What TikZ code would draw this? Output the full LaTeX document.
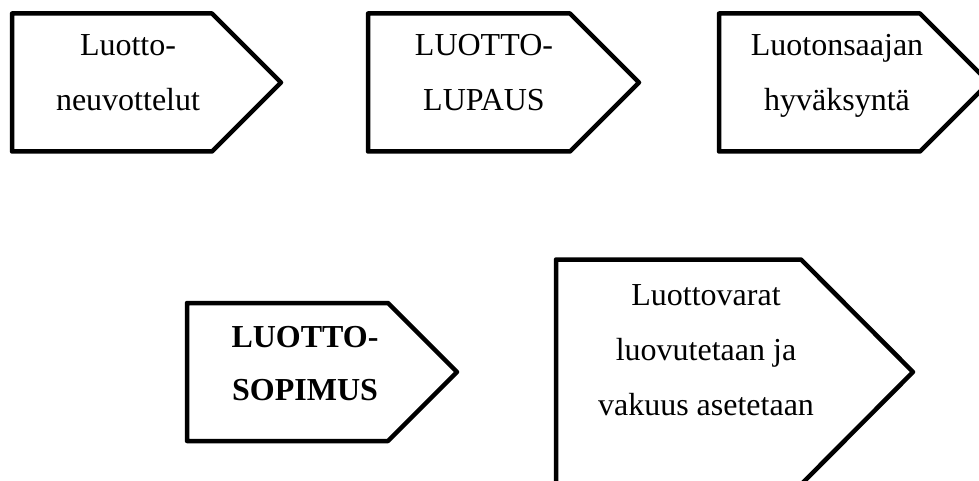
\documentclass[tikz,border=0pt]{standalone}
\usepackage{fontspec}
\setmainfont{Liberation Serif}
\begin{document}
\begin{tikzpicture}[x=1pt,y=-1pt,
  stage/.style={draw=black,line width=4.5pt,line join=round,fill=white},
  lbl/.style={anchor=north,inner sep=0pt,align=center,
    font=\fontsize{32}{55}\selectfont},
  lblbold/.style={lbl,font=\fontsize{32}{53}\selectfont\bfseries}]
\clip (0,0) rectangle (979,481);
\fill[white] (0,0) rectangle (979,481);

% upper row of process arrows
\draw[stage] (12,13.5) -- (212,13.5) -- (281,82.5) -- (212,151.5) -- (12,151.5) -- cycle;
\draw[stage] (368,13.5) -- (570,13.5) -- (639,82.5) -- (570,151.5) -- (368,151.5) -- cycle;
\draw[stage] (719,13.5) -- (920,13.5) -- (989,82.5) -- (920,151.5) -- (719,151.5) -- cycle;

% lower row
\draw[stage] (187,303) -- (388,303) -- (457,372) -- (388,441) -- (187,441) -- cycle;
\draw[stage] (556,259.5) -- (801,259.5) -- (913,372) -- (801,484.5) -- (556,484.5) -- cycle;

% labels (north anchor = first baseline minus strut height)
\node[lbl] (neuv) at (128,16.5) {\strut Luotto-\\\strut neuvottelut};
\node[lbl] (lupaus) at (484,16.5) {\strut LUOTTO-\\\strut LUPAUS};
\node[lbl] (hyv) at (837,16.5) {\strut Luotonsaajan\\\strut hyväksyntä};
\node[lblbold] (sop) at (305,309.9) {\strut LUOTTO-\\\strut SOPIMUS};
\node[lbl] (varat) at (706,266.5) {\strut Luottovarat\\\strut luovutetaan ja\\\strut vakuus asetetaan};
\end{tikzpicture}
\end{document}
